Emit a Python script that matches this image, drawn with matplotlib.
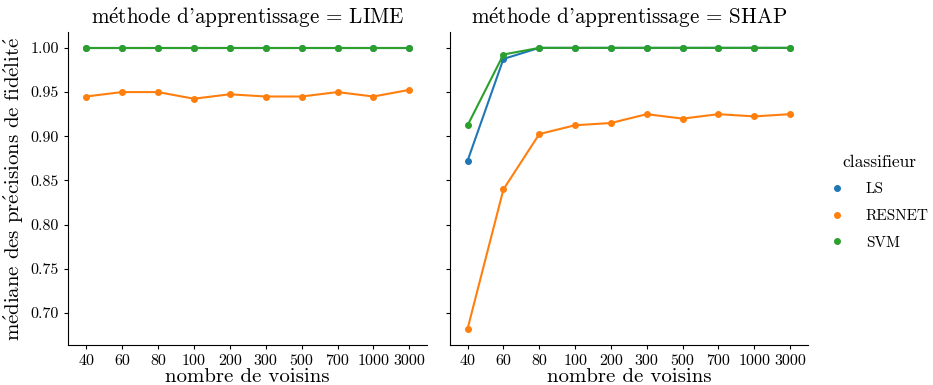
import matplotlib
matplotlib.use("Agg")
import matplotlib.pyplot as plt
from matplotlib.lines import Line2D

plt.rcParams['font.family'] = ['cmr10', 'DejaVu Serif']
plt.rcParams['mathtext.fontset'] = 'cm'
plt.rcParams['axes.formatter.use_mathtext'] = True

voisins = ['40', '60', '80', '100', '200', '300', '500', '700', '1000', '3000']
classifieurs = ['LS', 'RESNET', 'SVM']
couleurs = {'LS': '#1f77b4', 'RESNET': '#ff7f0e', 'SVM': '#2ca02c'}

# médiane des précisions de fidélité
lime = {
    'LS':     [1.0, 1.0, 1.0, 1.0, 1.0, 1.0, 1.0, 1.0, 1.0, 1.0],
    'RESNET': [0.945, 0.950, 0.950, 0.9425, 0.9475, 0.945, 0.945, 0.950, 0.945, 0.9525],
    'SVM':    [1.0, 1.0, 1.0, 1.0, 1.0, 1.0, 1.0, 1.0, 1.0, 1.0],
}
shap = {
    'LS':     [0.8725, 0.9875, 1.0, 1.0, 1.0, 1.0, 1.0, 1.0, 1.0, 1.0],
    'RESNET': [0.6825, 0.840, 0.9025, 0.9125, 0.915, 0.925, 0.920, 0.925, 0.9225, 0.925],
    'SVM':    [0.9125, 0.9925, 1.0, 1.0, 1.0, 1.0, 1.0, 1.0, 1.0, 1.0],
}


def accents(s):
    # cmr10 n'a pas de é : on passe par mathtext
    return s.replace('é', r'$\mathrm{\acute{e}}$')


fig, axs = plt.subplots(1, 2, figsize=(9.33, 3.85), dpi=100, sharey=True)
axs[0].set_position([0.073, 0.104, 0.385, 0.813])
axs[1].set_position([0.482, 0.104, 0.384, 0.813])

x = list(range(len(voisins)))
for ax, data, nom in zip(axs, [lime, shap], ['LIME', 'SHAP']):
    for c in classifieurs:
        ax.plot(x, data[c], color=couleurs[c], marker='o', markersize=4, linewidth=1.5)
    # dans cmr10 l'apostrophe droite a la forme d'une apostrophe typographique
    ax.set_title(accents("méthode d'apprentissage = " + nom), fontsize=15.2, pad=6)
    ax.set_xticks(x)
    ax.set_xticklabels(voisins)
    ax.set_xlim(-0.5, len(voisins) - 0.5)
    ax.set_xlabel("nombre de voisins", fontsize=15, labelpad=0)
    for s in ['top', 'right']:
        ax.spines[s].set_visible(False)
    ax.tick_params(labelsize=11.5, length=3)

axs[0].set_ylim(0.664, 1.018)
axs[0].set_yticks([0.70, 0.75, 0.80, 0.85, 0.90, 0.95, 1.00])
axs[0].set_yticklabels(['0.70', '0.75', '0.80', '0.85', '0.90', '0.95', '1.00'])
axs[0].set_ylabel(accents("médiane des précisions de fidélité"), fontsize=15, labelpad=3)
axs[1].tick_params(labelleft=False)

poignees = [Line2D([], [], color=couleurs[c], marker='o', markersize=4, linestyle='')
            for c in classifieurs]
fig.legend(poignees, classifieurs, title='classifieur', loc='center left',
           bbox_to_anchor=(0.874, 0.475), frameon=False, fontsize=11,
           title_fontsize=12.5, handlelength=1.0, handletextpad=1.4, labelspacing=0.85)

fig.savefig("out.png")
